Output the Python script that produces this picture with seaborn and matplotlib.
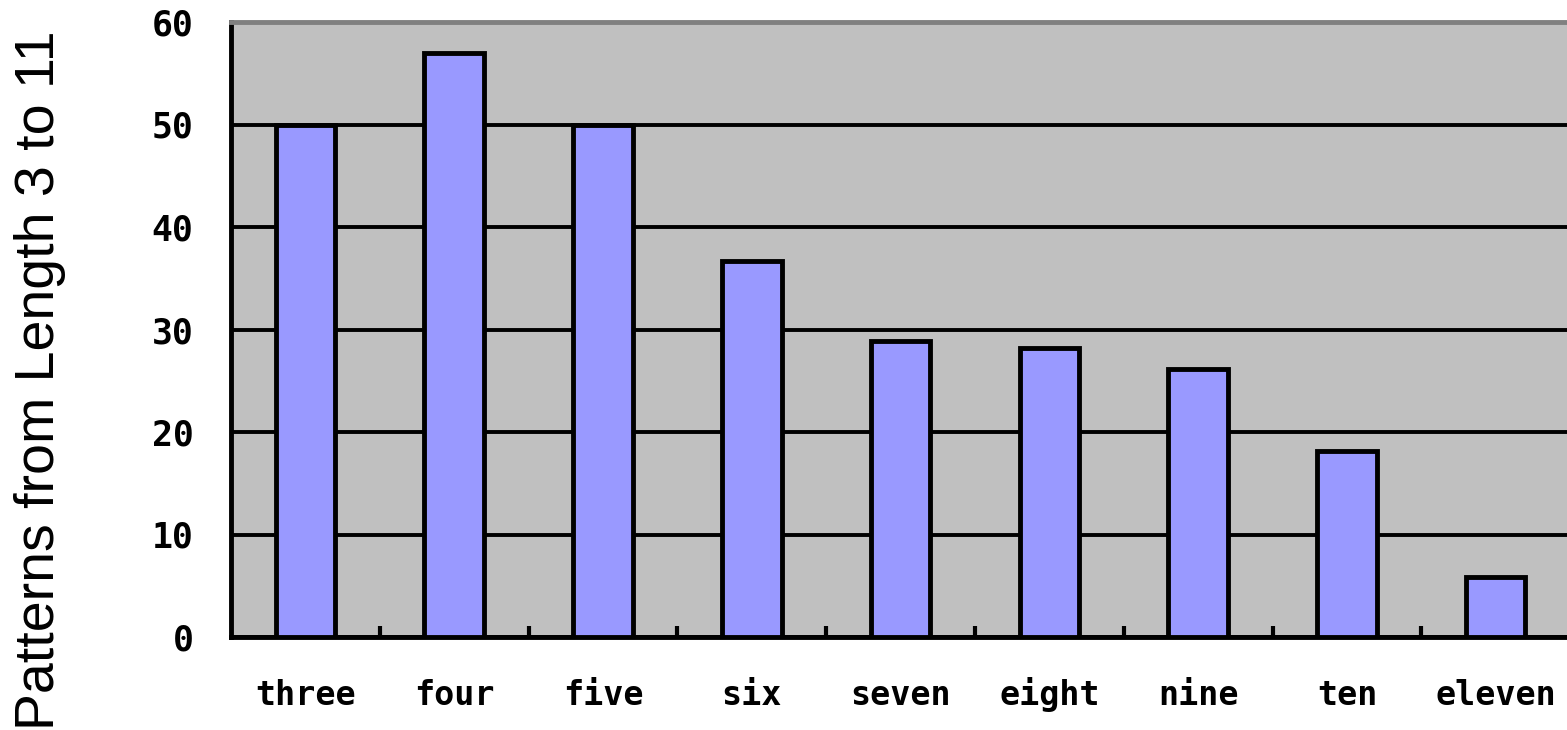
import matplotlib
matplotlib.use("Agg")
import matplotlib.pyplot as plt
import seaborn as sns
import pandas as pd
from matplotlib.ticker import FixedLocator

categories = ["three", "four", "five", "six", "seven", "eight", "nine", "ten", "eleven"]
values = [50, 57, 50, 36.7, 28.9, 28.2, 26.1, 18.1, 5.9]
y_ticks = [0, 10, 20, 30, 40, 50, 60]
y_label = "Patterns from Length 3 to 11"

sns.set_theme(style="white")
plt.rcParams['font.family'] = ['DejaVu Sans']

df = pd.DataFrame({"cat": categories, "val": values})

fig = plt.figure(figsize=(15.67, 7.30), dpi=100)
ax = fig.add_axes([231/1567, 1-637/730, 1-231/1567 + 0.002, (637-22)/730])
ax.set_facecolor("#C0C0C0")

sns.barplot(data=df, x="cat", y="val", color="#9999FF", width=0.4,
            edgecolor="black", linewidth=3.5, saturation=1, ax=ax, zorder=3)

ax.set_ylim(0, 60)
ax.set_xlim(-0.5, 8.5)
ax.set_yticks(y_ticks)
ax.set_yticklabels([str(t) for t in y_ticks])
ax.yaxis.grid(True, color="black", linewidth=2.8, zorder=1)
ax.set_axisbelow(True)
ax.set_xlabel("")
ax.set_ylabel("")

ax.tick_params(axis="y", length=0, pad=27)
ax.tick_params(axis="x", which="major", length=0, pad=49)
ax.xaxis.set_minor_locator(FixedLocator([i + 0.5 for i in range(8)]))
ax.tick_params(axis="x", which="minor", direction="in", length=8, width=3, color="black", bottom=True)

for lab in ax.get_xticklabels():
    lab.set_fontfamily("DejaVu Sans Mono")
    lab.set_fontweight("bold")
    lab.set_fontsize(24)
    lab.set_color("black")
    lab.set_verticalalignment("baseline")
for lab in ax.get_yticklabels():
    lab.set_fontfamily("DejaVu Sans Mono")
    lab.set_fontweight("bold")
    lab.set_fontsize(25)
    lab.set_color("black")

ax.spines["left"].set_color("black")
ax.spines["left"].set_linewidth(3.5)
ax.spines["bottom"].set_color("black")
ax.spines["bottom"].set_linewidth(3.5)
ax.spines["top"].set_color("#808080")
ax.spines["top"].set_linewidth(3.5)
ax.spines["right"].set_visible(False)

fig.text(40/1567, 1-380/730, y_label, rotation=90, ha="center", va="center",
         fontsize=40, color="black", family=["Liberation Sans", "DejaVu Sans"])

fig.savefig("out.png", dpi=100, facecolor="white")
